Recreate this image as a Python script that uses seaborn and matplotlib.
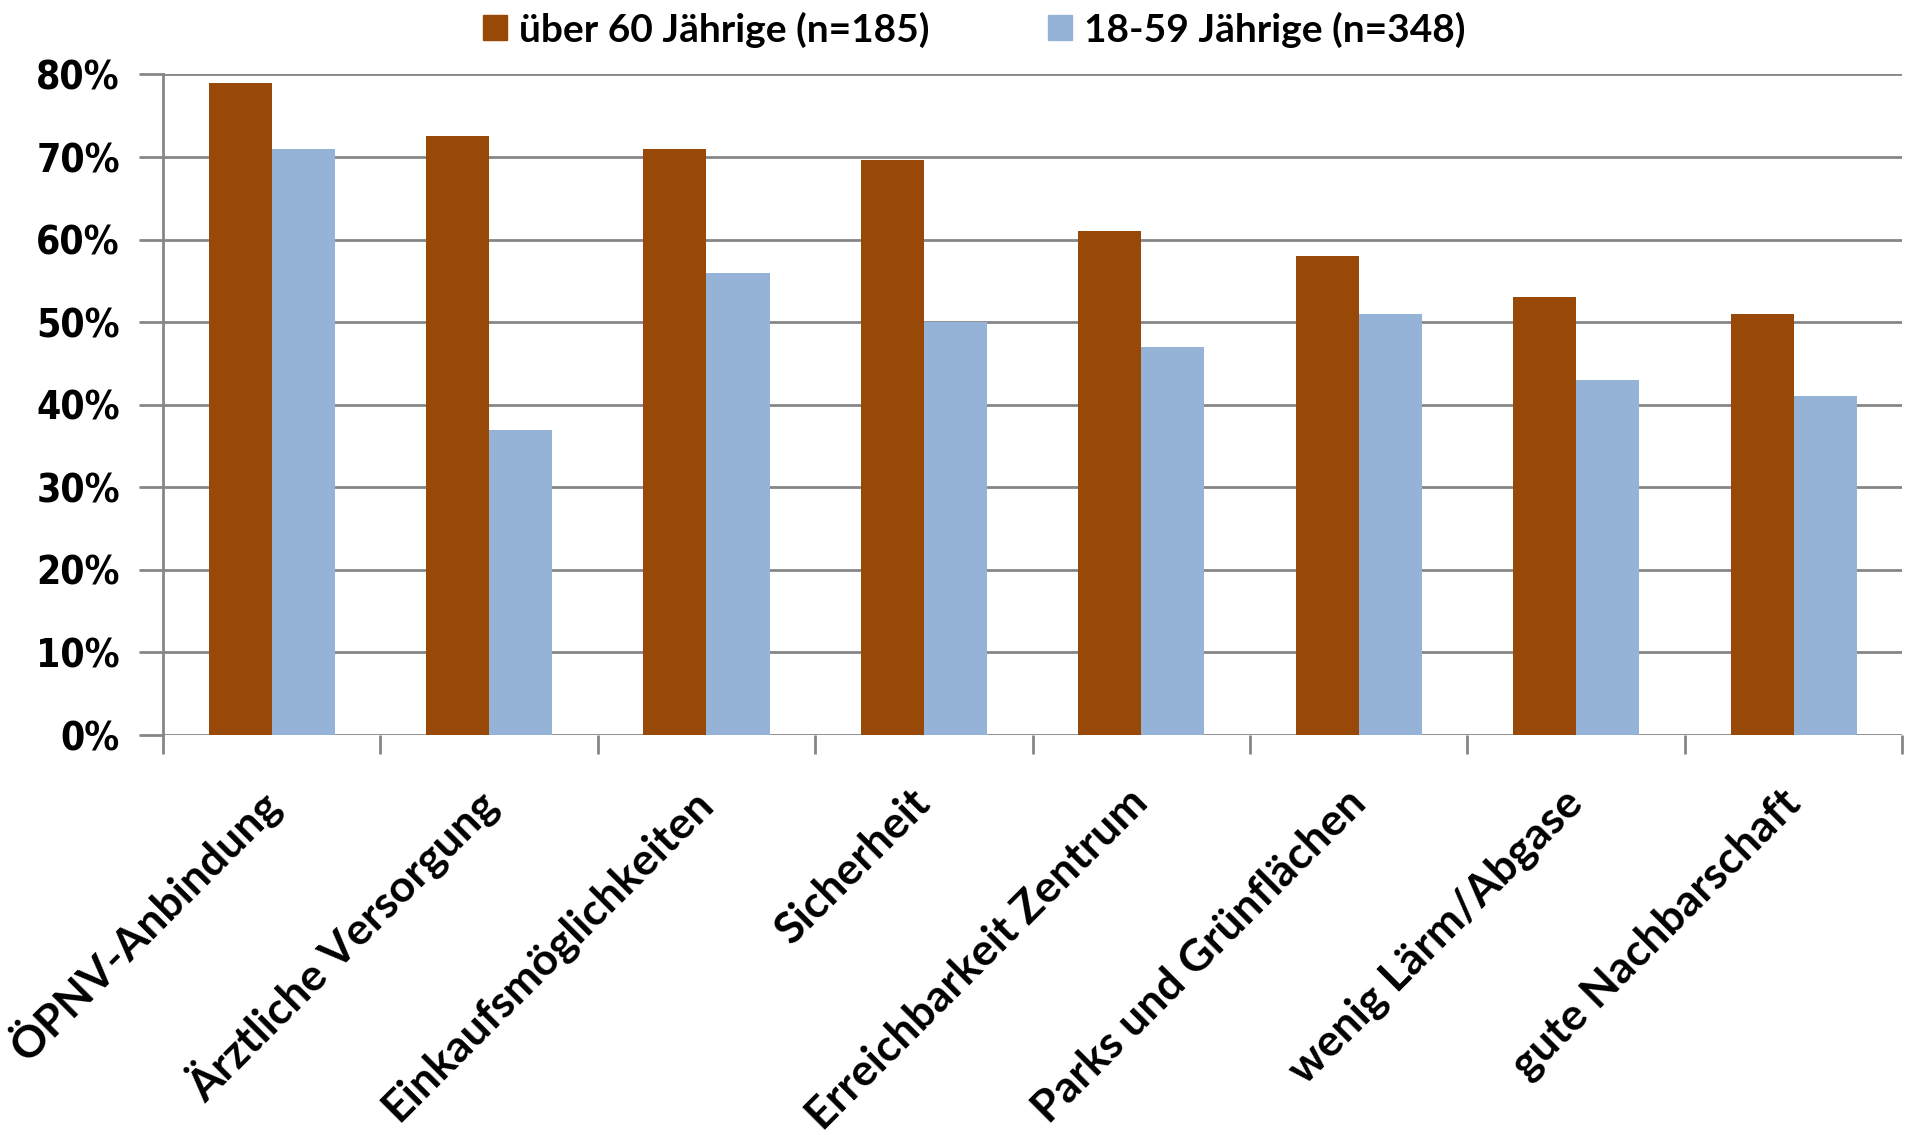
import pandas as pd
import seaborn as sns
import matplotlib.pyplot as plt
from matplotlib.patches import Patch

categories = ['ÖPNV-Anbindung', 'Ärztliche Versorgung', 'Einkaufsmöglichkeiten', 'Sicherheit',
              'Erreichbarkeit Zentrum', 'Parks und Grünflächen', 'wenig Lärm/Abgase', 'gute Nachbarschaft']
series_names = ['über 60 Jährige (n=185)', '18-59 Jährige (n=348)']
ueber60 = [79, 72.6, 71, 69.7, 61, 58, 53, 51]
jung = [71, 37, 56, 50, 47, 51, 43, 41]
yticks = [0, 10, 20, 30, 40, 50, 60, 70, 80]
colors = ['#984807', '#95B3D7']
grid_color = '#868686'

# Daten ins lange Format bringen
df = pd.DataFrame({'Kategorie': categories * 2,
                   'Gruppe': [series_names[0]] * 8 + [series_names[1]] * 8,
                   'Wert': ueber60 + jung})

sns.set_style('white')
plt.rcParams['text.color'] = 'black'
plt.rcParams['xtick.color'] = 'black'
plt.rcParams['ytick.color'] = 'black'
label_font = ['Lato', 'DejaVu Sans']

fig = plt.figure(figsize=(19.08, 11.35), dpi=100)
ax = fig.add_axes([0.0854, 0.3524, 0.9116, 0.582])

sns.barplot(data=df, x='Kategorie', y='Wert', hue='Gruppe', palette=colors,
            width=0.58, saturation=1, linewidth=0, ax=ax, legend=False, zorder=3)

# Achsen und Gitter
ax.set_ylim(0, 80)
ax.set_xlim(-0.5, 7.5)
ax.set_yticks(yticks)
ax.set_yticklabels([f'{v}%' for v in yticks], fontsize=28, fontweight='bold', family='DejaVu Sans',
                   fontstretch='condensed', color='black')
ax.yaxis.grid(True, color=grid_color, linewidth=2, zorder=0)
ax.set_axisbelow(True)
for side in ['top', 'right', 'bottom']:
    ax.spines[side].set_visible(False)
ax.spines['left'].set_color(grid_color)
ax.spines['left'].set_linewidth(2)
ax.tick_params(axis='y', length=17, width=2, color=grid_color, pad=14, left=True)

ax.set_xticks(range(len(categories)))
ax.set_xticklabels(categories, rotation=45, ha='right', va='center', rotation_mode='anchor',
                   fontsize=32, fontweight='bold', family=label_font, color='black')
ax.set_xticks([i - 0.5 for i in range(len(categories) + 1)], minor=True)
ax.tick_params(axis='x', which='major', length=0, pad=44)
ax.tick_params(axis='x', which='minor', length=14, width=2, color=grid_color, bottom=True)
ax.set_xlabel('')
ax.set_ylabel('')

# Legende oben
handles = [Patch(color=c) for c in colors]
leg = fig.legend(handles, series_names, loc='center', bbox_to_anchor=(0.5106, 0.974), ncol=2, frameon=False,
                 prop={'family': label_font, 'weight': 'bold', 'size': 28},
                 handlelength=0.62, handleheight=0.62, handletextpad=0.31, columnspacing=3.06)
for t in leg.get_texts():
    t.set_color('black')

plt.savefig('out.png', dpi=100)
plt.close()
